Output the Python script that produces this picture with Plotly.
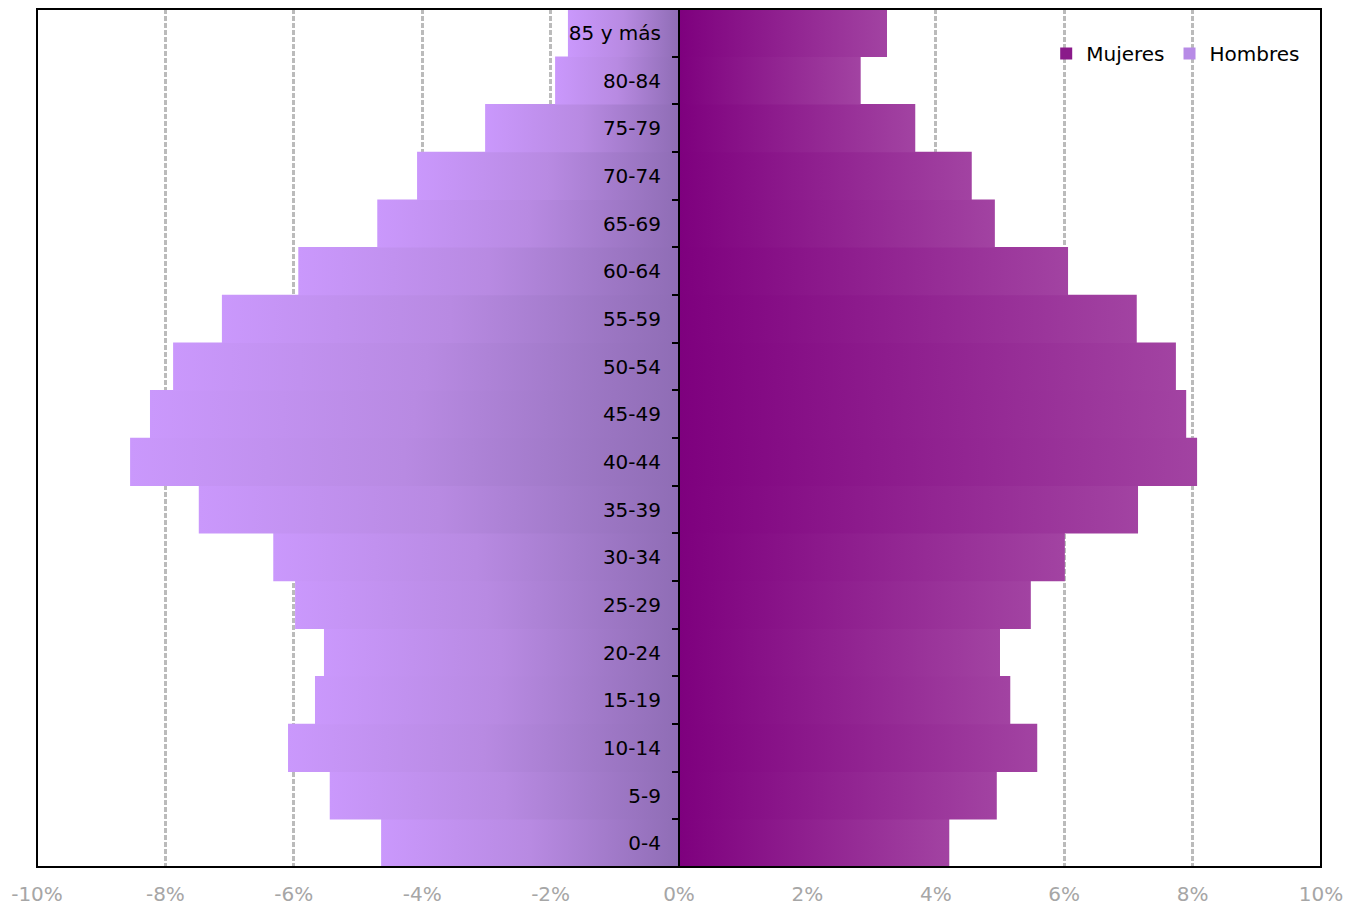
import plotly.graph_objects as go

categories = ["0-4", "5-9", "10-14", "15-19", "20-24", "25-29", "30-34", "35-39",
              "40-44", "45-49", "50-54", "55-59", "60-64", "65-69", "70-74",
              "75-79", "80-84", "85 y más"]
hombres = [4.64, 5.44, 6.09, 5.67, 5.53, 5.98, 6.32, 7.48, 8.55, 8.24, 7.88,
           7.12, 5.93, 4.70, 4.08, 3.02, 1.93, 1.73]
mujeres = [4.21, 4.95, 5.58, 5.16, 5.00, 5.48, 6.01, 7.15, 8.07, 7.90, 7.74,
           7.13, 6.06, 4.92, 4.56, 3.68, 2.83, 3.24]
x_ticks = [-10, -8, -6, -4, -2, 0, 2, 4, 6, 8, 10]
x_ticktext = [f"{t}%" for t in x_ticks]

FONT = "DejaVu Sans"
H_OUT, H_MID, H_IN = "#CA98FC", "#B88AE2", "#8F6DB5"
M_IN, M_OUT = "#7E007E", "#A243A2"
HALF = 0.505  # slight overlap so adjacent bars show no seam

fig = go.Figure()

for i, v in enumerate(hombres):
    fig.add_trace(go.Scatter(
        x=[-v, 0, 0, -v, -v], y=[i - HALF, i - HALF, i + HALF, i + HALF, i - HALF],
        mode="lines", line=dict(width=0), fill="toself",
        fillgradient=dict(type="horizontal",
                          colorscale=[[0, H_OUT], [0.5, H_MID], [1, H_IN]]),
        showlegend=False, hoverinfo="text",
        text=f"Hombres {categories[i]}: {v}%"))
for i, v in enumerate(mujeres):
    fig.add_trace(go.Scatter(
        x=[0, v, v, 0, 0], y=[i - HALF, i - HALF, i + HALF, i + HALF, i - HALF],
        mode="lines", line=dict(width=0), fill="toself",
        fillgradient=dict(type="horizontal", colorscale=[[0, M_IN], [1, M_OUT]]),
        showlegend=False, hoverinfo="text",
        text=f"Mujeres {categories[i]}: {v}%"))

# legend entries
fig.add_trace(go.Bar(x=[None], y=[None], orientation="h", name="Mujeres",
                     marker=dict(color="#8A1A8A", line=dict(width=0))))
fig.add_trace(go.Bar(x=[None], y=[None], orientation="h", name="Hombres",
                     marker=dict(color="#B78BE6", line=dict(width=0))))

fig.update_layout(
    width=1359, height=906,
    margin=dict(l=29, r=46, t=1, b=47),
    paper_bgcolor="white", plot_bgcolor="white",
    font=dict(family=FONT, size=20, color="black"),
    showlegend=True,
    legend=dict(orientation="h", x=0.9877, xanchor="right", y=0.948, yanchor="middle",
                bgcolor="rgba(0,0,0,0)", font=dict(size=20, family=FONT),
                itemwidth=30, tracegroupgap=0),
    xaxis=dict(range=[-10, 10], domain=[0, 1], tickvals=x_ticks, ticktext=x_ticktext,
               tickfont=dict(color="#A6A6A6", size=20, family=FONT),
               ticklabelstandoff=13,
               showgrid=True, gridcolor="#BBBBBB", gridwidth=2.5, griddash="5px,2px",
               zeroline=False, showline=False, ticks="", fixedrange=True),
    yaxis=dict(range=[-0.5, len(categories) - 0.5], anchor="free", position=0.5,
               tickvals=list(range(len(categories))), ticktext=categories,
               tickfont=dict(color="black", size=20, family=FONT),
               ticks="", ticklabelstandoff=13,
               minor=dict(tickvals=[k - 0.5 for k in range(len(categories) + 1)],
                          ticks="outside", ticklen=6, tickcolor="black", tickwidth=2),
               showline=True, linecolor="black", linewidth=2,
               showgrid=False, zeroline=False, fixedrange=True),
    shapes=[dict(type="rect", xref="paper", yref="paper", x0=0, x1=1, y0=0, y1=1,
                 line=dict(color="black", width=2), layer="above")],
    barmode="overlay",
)

fig.write_html("out.html")
